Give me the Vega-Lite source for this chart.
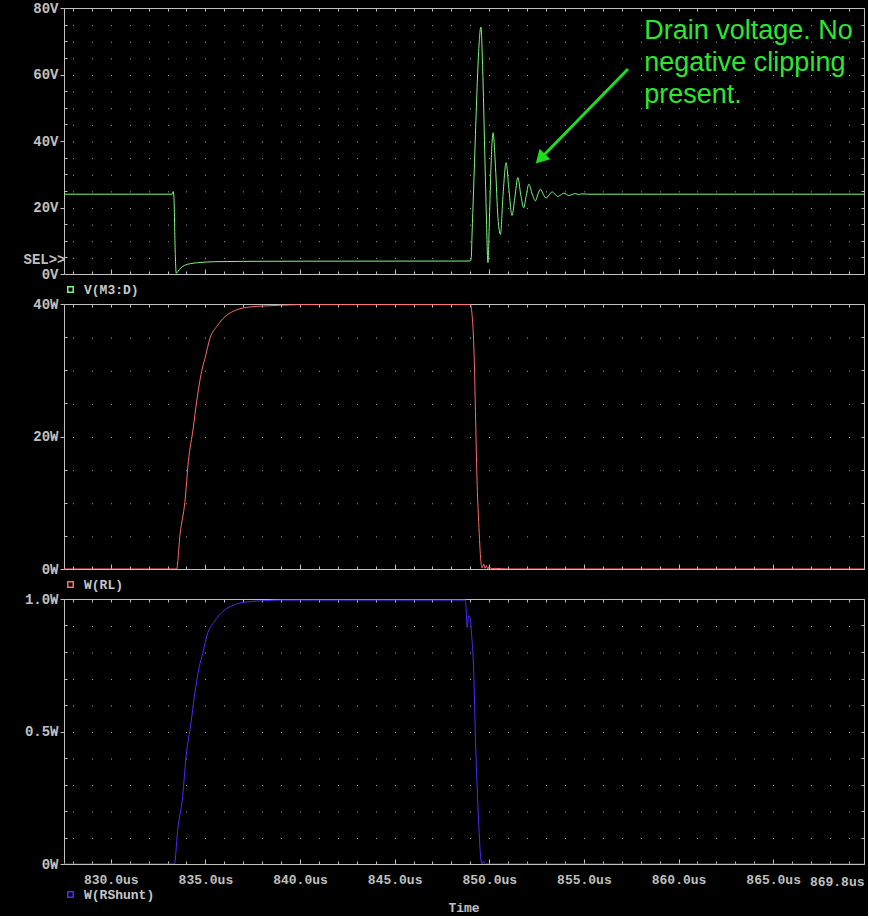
{
  "$schema": "https://vega.github.io/schema/vega-lite/v6.json",
  "description": "PSpice transient: drain voltage V(M3:D), W(RL) and W(RShunt) against time.",
  "background": "#000000",
  "padding": {"left": 22, "top": 0, "right": 3, "bottom": 0},
  "spacing": -2,
  "datasets": {
    "drain": [
      {"t": 827.53, "v": 24.0}, {"t": 833.25, "v": 24.0}, {"t": 833.3, "v": 24.8}, {"t": 833.34, "v": 23.0},
      {"t": 833.4, "v": 8.0}, {"t": 833.46, "v": 0.2}, {"t": 833.55, "v": 0.8}, {"t": 833.7, "v": 1.8},
      {"t": 833.9, "v": 2.6}, {"t": 834.2, "v": 3.1}, {"t": 834.6, "v": 3.4}, {"t": 835.5, "v": 3.7},
      {"t": 837.0, "v": 3.8}, {"t": 840.0, "v": 3.85}, {"t": 849.0, "v": 3.9}, {"t": 849.05, "v": 5.0},
      {"t": 849.09, "v": 11.9}, {"t": 849.17, "v": 25.0}, {"t": 849.27, "v": 42.0}, {"t": 849.37, "v": 58.0},
      {"t": 849.44, "v": 67.0}, {"t": 849.56, "v": 74.3}, {"t": 849.65, "v": 62.0}, {"t": 849.76, "v": 37.0},
      {"t": 849.85, "v": 16.9}, {"t": 849.93, "v": 3.4}, {"t": 850.01, "v": 16.9}, {"t": 850.09, "v": 32.0},
      {"t": 850.2, "v": 42.5}, {"t": 850.33, "v": 32.0}, {"t": 850.46, "v": 16.9}, {"t": 850.59, "v": 11.9},
      {"t": 850.73, "v": 24.0}, {"t": 850.89, "v": 33.5}, {"t": 851.03, "v": 26.0}, {"t": 851.2, "v": 17.6},
      {"t": 851.35, "v": 22.9}, {"t": 851.51, "v": 29.0}, {"t": 851.66, "v": 24.0}, {"t": 851.82, "v": 19.9},
      {"t": 851.95, "v": 23.5}, {"t": 852.09, "v": 27.0}, {"t": 852.27, "v": 24.0}, {"t": 852.44, "v": 22.0},
      {"t": 852.57, "v": 24.0}, {"t": 852.71, "v": 25.5}, {"t": 852.85, "v": 24.0}, {"t": 853.0, "v": 22.8},
      {"t": 853.16, "v": 23.8}, {"t": 853.32, "v": 24.7}, {"t": 853.47, "v": 24.0}, {"t": 853.62, "v": 23.3},
      {"t": 853.78, "v": 23.8}, {"t": 853.94, "v": 24.3}, {"t": 854.07, "v": 24.0}, {"t": 854.2, "v": 23.6},
      {"t": 854.38, "v": 23.9}, {"t": 854.55, "v": 24.2}, {"t": 854.72, "v": 23.9}, {"t": 854.9, "v": 24.1},
      {"t": 855.2, "v": 24.0}, {"t": 869.8, "v": 24.0}
    ],
    "rl": [
      {"t": 827.53, "w": 0}, {"t": 833.48, "w": 0}, {"t": 833.66, "w": 5.2}, {"t": 833.92, "w": 10.2},
      {"t": 834.1, "w": 16.2}, {"t": 834.36, "w": 21.3}, {"t": 834.54, "w": 25.3}, {"t": 834.8, "w": 29.8},
      {"t": 834.98, "w": 31.8}, {"t": 835.25, "w": 34.9}, {"t": 835.6, "w": 36.6}, {"t": 836.04, "w": 38.1},
      {"t": 836.48, "w": 38.9}, {"t": 837.18, "w": 39.5}, {"t": 838.07, "w": 39.7}, {"t": 838.9, "w": 39.8},
      {"t": 840.0, "w": 39.9}, {"t": 849.0, "w": 39.9}, {"t": 849.09, "w": 38.4}, {"t": 849.21, "w": 31.3},
      {"t": 849.27, "w": 23.8}, {"t": 849.35, "w": 13.7}, {"t": 849.44, "w": 7.2}, {"t": 849.56, "w": 1.1},
      {"t": 849.62, "w": 0.15}, {"t": 849.71, "w": 0.75}, {"t": 849.78, "w": 0.1}, {"t": 849.85, "w": 0.5},
      {"t": 849.92, "w": 0.0}, {"t": 849.99, "w": 0.4}, {"t": 850.1, "w": 0.05}, {"t": 850.3, "w": 0.1},
      {"t": 851.0, "w": 0}, {"t": 869.8, "w": 0}
    ],
    "rshunt": [
      {"t": 827.53, "w": 0}, {"t": 833.36, "w": 0}, {"t": 833.54, "w": 0.13}, {"t": 833.8, "w": 0.255},
      {"t": 833.98, "w": 0.405}, {"t": 834.24, "w": 0.533}, {"t": 834.42, "w": 0.633}, {"t": 834.68, "w": 0.745},
      {"t": 834.86, "w": 0.795}, {"t": 835.13, "w": 0.873}, {"t": 835.48, "w": 0.915}, {"t": 835.92, "w": 0.953},
      {"t": 836.36, "w": 0.973}, {"t": 837.06, "w": 0.988}, {"t": 837.95, "w": 0.993}, {"t": 839.0, "w": 0.996},
      {"t": 848.74, "w": 0.996}, {"t": 848.79, "w": 0.943}, {"t": 848.83, "w": 0.893}, {"t": 848.91, "w": 0.937},
      {"t": 849.0, "w": 0.925}, {"t": 849.05, "w": 0.88}, {"t": 849.18, "w": 0.723}, {"t": 849.27, "w": 0.472},
      {"t": 849.35, "w": 0.308}, {"t": 849.44, "w": 0.157}, {"t": 849.56, "w": 0.016}, {"t": 849.62, "w": 0.0},
      {"t": 849.7, "w": 0.01}, {"t": 849.8, "w": 0.0}, {"t": 869.8, "w": 0}
    ],
    "arrow": [{"t": 857.33, "v": 61.65, "t2": 852.7, "v2": 34.68}],
    "head": [{"t": 852.7, "v": 34.68}],
    "note": [{"t": 858.19, "v": 70.77, "note": "Drain voltage. No\nnegative clipping\npresent."}]
  },
  "vconcat": [
    {
      "width": 800,
      "height": 266,
      "resolve": {"axis": {"x": "independent", "y": "independent"}},
      "layer": [
        {
          "data": {"name": "drain"},
          "mark": {"type": "line", "strokeWidth": 1, "clip": true, "interpolate": "monotone"},
          "encoding": {
            "x": {
              "field": "t", "type": "quantitative",
              "scale": {"domain": [827.53, 869.8], "nice": false, "zero": false},
              "axis": {
                "orient": "bottom", "title": null, "labels": false,
                "values": [828,829,830,831,832,833,834,835,836,837,838,839,840,841,842,843,844,845,846,847,848,849,850,851,852,853,854,855,856,857,858,859,860,861,862,863,864,865,866,867,868,869,869.8],
                "tickSize": {"condition": {"test": "datum.value % 5 == 0", "value": -5}, "value": -3},
                "grid": true, "gridDash": [1, 15.625]
              }
            },
            "y": {
              "field": "v", "type": "quantitative",
              "scale": {"domain": [0, 80], "nice": false, "zero": false},
              "axis": {
                "orient": "left", "title": null, "labelPadding": 2, "labelFontSize": 14,
                "values": [0,4.4,5,10,15,20,25,30,35,40,45,50,55,60,65,70,75,80],
                "labelExpr": "datum.value == 4.4 ? 'SEL>>' : (datum.value % 20 == 0 ? datum.value + 'V' : '')",
                "tickSize": {"condition": {"test": "datum.value % 20 == 0", "value": 4}, "value": -3},
                "tickOpacity": {"condition": {"test": "datum.value == 4.4", "value": 0}, "value": 1}
              }
            },
            "color": {
              "datum": "V(M3:D)",
              "scale": {"range": ["#7cf87c"]},
              "legend": {"orient": "bottom", "title": null, "offset": 8}
            }
          }
        },
        {
          "data": {"name": "drain"},
          "mark": {"type": "line", "opacity": 0},
          "encoding": {
            "x": {
              "field": "t", "type": "quantitative",
              "axis": {
                "orient": "top", "title": null, "labels": false, "tickSize": -3,
                "values": [828,829,830,831,832,833,834,835,836,837,838,839,840,841,842,843,844,845,846,847,848,849,850,851,852,853,854,855,856,857,858,859,860,861,862,863,864,865,866,867,868,869]
              }
            },
            "y": {
              "field": "v", "type": "quantitative",
              "axis": {
                "orient": "right", "title": null, "labels": false, "tickSize": -3,
                "values": [0,5,10,15,20,25,30,35,40,45,50,55,60,65,70,75,80]
              }
            }
          }
        },
        {
          "data": {"name": "arrow"},
          "mark": {"type": "rule", "color": "#1fdc1f", "strokeWidth": 3},
          "encoding": {
            "x": {"field": "t", "type": "quantitative", "axis": null},
            "y": {"field": "v", "type": "quantitative", "axis": null},
            "x2": {"field": "t2"},
            "y2": {"field": "v2"}
          }
        },
        {
          "data": {"name": "head"},
          "mark": {"type": "point", "shape": "triangle-up", "filled": true, "size": 230, "angle": 224, "color": "#1fdc1f", "opacity": 1},
          "encoding": {
            "x": {"field": "t", "type": "quantitative", "axis": null},
            "y": {"field": "v", "type": "quantitative", "axis": null}
          }
        },
        {
          "data": {"name": "note"},
          "mark": {"type": "text", "align": "left", "baseline": "alphabetic", "lineBreak": "\n", "lineHeight": 32, "font": "Liberation Sans", "fontSize": 27, "color": "#2fe62f"},
          "encoding": {
            "x": {"field": "t", "type": "quantitative", "axis": null},
            "y": {"field": "v", "type": "quantitative", "axis": null},
            "text": {"field": "note"}
          }
        }
      ]
    },
    {
      "width": 800,
      "height": 265,
      "resolve": {"axis": {"x": "independent", "y": "independent"}},
      "layer": [
        {
          "data": {"name": "rl"},
          "mark": {"type": "line", "strokeWidth": 1, "clip": true, "interpolate": "monotone"},
          "encoding": {
            "x": {
              "field": "t", "type": "quantitative",
              "scale": {"domain": [827.53, 869.8], "nice": false, "zero": false},
              "axis": {
                "orient": "bottom", "title": null, "labels": false,
                "values": [828,829,830,831,832,833,834,835,836,837,838,839,840,841,842,843,844,845,846,847,848,849,850,851,852,853,854,855,856,857,858,859,860,861,862,863,864,865,866,867,868,869,869.8],
                "tickSize": {"condition": {"test": "datum.value % 5 == 0", "value": -5}, "value": -3},
                "grid": true, "gridDash": [1, 32.125]
              }
            },
            "y": {
              "field": "w", "type": "quantitative",
              "scale": {"domain": [0, 40], "nice": false, "zero": false},
              "axis": {
                "orient": "left", "title": null, "labelPadding": 2, "labelFontSize": 14,
                "values": [0,5,10,15,20,25,30,35,40],
                "labelExpr": "datum.value % 20 == 0 ? datum.value + 'W' : ''",
                "tickSize": {"condition": {"test": "datum.value % 20 == 0", "value": 4}, "value": -3}
              }
            },
            "color": {
              "datum": "W(RL)",
              "scale": {"range": ["#ff6a6a"]},
              "legend": {"orient": "bottom", "title": null, "offset": 8}
            }
          }
        },
        {
          "data": {"name": "rl"},
          "mark": {"type": "line", "opacity": 0},
          "encoding": {
            "x": {
              "field": "t", "type": "quantitative",
              "axis": {
                "orient": "top", "title": null, "labels": false, "tickSize": -3,
                "values": [828,829,830,831,832,833,834,835,836,837,838,839,840,841,842,843,844,845,846,847,848,849,850,851,852,853,854,855,856,857,858,859,860,861,862,863,864,865,866,867,868,869]
              }
            },
            "y": {
              "field": "w", "type": "quantitative",
              "axis": {
                "orient": "right", "title": null, "labels": false, "tickSize": -3,
                "values": [0,5,10,15,20,25,30,35,40]
              }
            }
          }
        }
      ]
    },
    {
      "width": 800,
      "height": 265,
      "title": {"text": "Time", "orient": "bottom", "anchor": "middle", "font": "Liberation Mono", "fontSize": 13, "fontWeight": "bold", "color": "#c0c0c0", "offset": 0},
      "resolve": {"axis": {"x": "independent", "y": "independent"}},
      "layer": [
        {
          "data": {"name": "rshunt"},
          "mark": {"type": "line", "strokeWidth": 1, "clip": true, "interpolate": "monotone"},
          "encoding": {
            "x": {
              "field": "t", "type": "quantitative",
              "scale": {"domain": [827.53, 869.8], "nice": false, "zero": false},
              "axis": {
                "orient": "bottom", "title": null, "labelPadding": 14, "labelFlush": true,
                "values": [828,829,830,831,832,833,834,835,836,837,838,839,840,841,842,843,844,845,846,847,848,849,850,851,852,853,854,855,856,857,858,859,860,861,862,863,864,865,866,867,868,869,869.8],
                "labelExpr": "(datum.value % 5 == 0 || datum.value > 869.5) ? format(datum.value, '.1f') + 'us' : ''",
                "tickSize": {"condition": {"test": "datum.value % 5 == 0", "value": -5}, "value": -3},
                "grid": true, "gridDash": [1, 25.5]
              }
            },
            "y": {
              "field": "w", "type": "quantitative",
              "scale": {"domain": [0, 1], "nice": false, "zero": false},
              "axis": {
                "orient": "left", "title": null, "labelPadding": 2, "labelFontSize": 14,
                "values": [0,0.1,0.2,0.3,0.4,0.5,0.6,0.7,0.8,0.9,1],
                "labelExpr": "datum.value == 0 ? '0W' : ((datum.value == 0.5 || datum.value == 1) ? format(datum.value, '.1f') + 'W' : '')",
                "tickSize": {"condition": {"test": "datum.value == 0 || datum.value == 0.5 || datum.value == 1", "value": 4}, "value": -3}
              }
            },
            "color": {
              "datum": "W(RShunt)",
              "scale": {"range": ["#4b2bff"]},
              "legend": {"orient": "bottom", "title": null, "offset": 0}
            }
          }
        },
        {
          "data": {"name": "rshunt"},
          "mark": {"type": "line", "opacity": 0},
          "encoding": {
            "x": {
              "field": "t", "type": "quantitative",
              "axis": {
                "orient": "top", "title": null, "labels": false, "tickSize": -3,
                "values": [828,829,830,831,832,833,834,835,836,837,838,839,840,841,842,843,844,845,846,847,848,849,850,851,852,853,854,855,856,857,858,859,860,861,862,863,864,865,866,867,868,869]
              }
            },
            "y": {
              "field": "w", "type": "quantitative",
              "axis": {
                "orient": "right", "title": null, "labels": false, "tickSize": -3,
                "values": [0,0.1,0.2,0.3,0.4,0.5,0.6,0.7,0.8,0.9,1]
              }
            }
          }
        }
      ]
    }
  ],
  "resolve": {"scale": {"color": "independent"}},
  "config": {
    "view": {"stroke": "#c0c0c0", "strokeWidth": 1},
    "axis": {
      "domain": false,
      "grid": false,
      "labelFont": "Liberation Mono",
      "labelFontSize": 13,
      "labelFontWeight": "bold",
      "labelColor": "#c0c0c0",
      "labelOverlap": false,
      "labelBound": false,
      "tickColor": "#c0c0c0",
      "tickWidth": 1,
      "gridColor": "#a0a0a0",
      "gridWidth": 1
    },
    "legend": {
      "symbolType": "square",
      "symbolSize": 30,
      "symbolStrokeWidth": 1.5,
      "symbolFillColor": "transparent",
      "labelFont": "Liberation Mono",
      "labelFontSize": 13,
      "labelFontWeight": "bold",
      "labelColor": "#c8c8c8",
      "labelOffset": 7,
      "padding": 0,
      "direction": "horizontal"
    }
  }
}
